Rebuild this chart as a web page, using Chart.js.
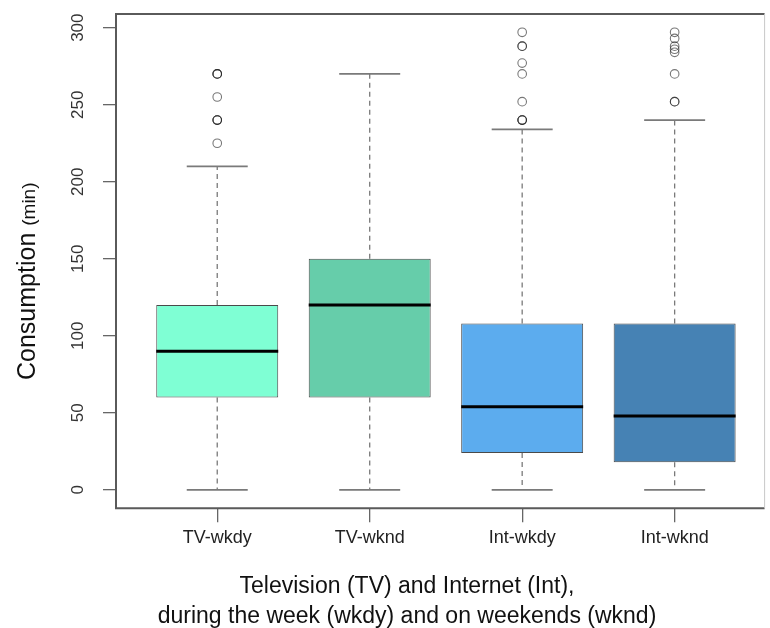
<!DOCTYPE html>
<html lang="en">
<head>
    <meta charset="UTF-8">
    <title>Consumption boxplot</title>
    <script src="https://cdn.jsdelivr.net/npm/chart.js@4.4.1/dist/chart.umd.min.js"></script>
    <style>
        html, body { margin: 0; padding: 0; background: #fff; }
        #wrap { width: 770px; height: 628px; }
    </style>
</head>
<body>
<div id="wrap"><canvas id="chartBox" width="770" height="628"></canvas></div>
<script>
    // categories and five-number summaries (minutes)
    var groups = ["TV-wkdy", "TV-wknd", "Int-wkdy", "Int-wknd"];
    var whiskerLow = [0, 0, 0, 0];
    var q1 = [60, 60, 24, 18];
    var median = [90, 120, 54, 48];
    var q3 = [120, 150, 108, 108];
    var whiskerHigh = [210, 270, 234, 240];
    // outliers per group (repeated values draw darker rings)
    var outliers = [
        [225, 240, 240, 240, 255, 270, 270, 270],
        [],
        [240, 240, 240, 252, 270, 277, 288, 288, 297],
        [252, 252, 270, 284, 286, 288, 293, 297]
    ];
    var yTicks = [0, 50, 100, 150, 200, 250, 300];
    var boxColors = ["#7fffd4", "#66cdaa", "#5cacee", "#4682b4"];

    var font = "'Liberation Sans', Arial, sans-serif";

    var boxData = groups.map(function (g, i) {
        return {x: i + 1, y: [q1[i], q3[i]]};
    });
    var outlierData = [];
    outliers.forEach(function (list, i) {
        list.forEach(function (v) {
            outlierData.push({x: i + 1, y: v});
        });
    });

    var boxExtras = {
        id: "boxExtras",
        beforeDatasetsDraw: function (chart) {
            var ctx = chart.ctx;
            var yS = chart.scales.y;
            var meta = chart.getDatasetMeta(0);
            ctx.save();
            meta.data.forEach(function (bar, i) {
                var half = bar.width / 4;
                ctx.strokeStyle = "#7a7a7a";
                ctx.lineWidth = 1.3;
                ctx.setLineDash([5, 4]);
                ctx.beginPath();
                ctx.moveTo(bar.x, yS.getPixelForValue(q3[i]));
                ctx.lineTo(bar.x, yS.getPixelForValue(whiskerHigh[i]));
                ctx.moveTo(bar.x, yS.getPixelForValue(q1[i]));
                ctx.lineTo(bar.x, yS.getPixelForValue(whiskerLow[i]));
                ctx.stroke();
                ctx.setLineDash([]);
                ctx.lineWidth = 1.6;
                ctx.beginPath();
                var hi = yS.getPixelForValue(whiskerHigh[i]);
                var lo = yS.getPixelForValue(whiskerLow[i]);
                ctx.moveTo(bar.x - half, hi);
                ctx.lineTo(bar.x + half, hi);
                ctx.moveTo(bar.x - half, lo);
                ctx.lineTo(bar.x + half, lo);
                ctx.stroke();
            });
            ctx.restore();
        },
        afterDatasetsDraw: function (chart) {
            var ctx = chart.ctx, a = chart.chartArea;
            var yS = chart.scales.y;
            var meta = chart.getDatasetMeta(0);
            ctx.save();
            // medians
            meta.data.forEach(function (bar, i) {
                var m = yS.getPixelForValue(median[i]);
                ctx.strokeStyle = "#000";
                ctx.lineWidth = 3;
                ctx.beginPath();
                ctx.moveTo(bar.x - bar.width / 2, m);
                ctx.lineTo(bar.x + bar.width / 2, m);
                ctx.stroke();
            });
            // plot frame
            ctx.strokeStyle = "#5a5a5a";
            ctx.lineWidth = 2;
            ctx.beginPath();
            ctx.moveTo(a.right, a.top);
            ctx.lineTo(a.left, a.top);
            ctx.lineTo(a.left, a.bottom);
            ctx.lineTo(a.right, a.bottom);
            ctx.stroke();
            ctx.strokeStyle = "#c8c8c8";
            ctx.lineWidth = 1;
            ctx.beginPath();
            ctx.moveTo(a.right, a.top);
            ctx.lineTo(a.right, a.bottom);
            ctx.stroke();
            // y axis title, "(min)" set smaller
            ctx.translate(35, 380);
            ctx.rotate(-Math.PI / 2);
            ctx.fillStyle = "#111";
            ctx.textBaseline = "alphabetic";
            ctx.textAlign = "left";
            ctx.font = "25px " + font;
            var main = "Consumption ";
            ctx.fillText(main, 0, 0);
            var w = ctx.measureText(main).width;
            ctx.font = "19px " + font;
            ctx.fillText("(min)", w, 0);
            ctx.restore();
        }
    };

    new Chart(document.getElementById("chartBox"), {
        data: {
            datasets: [
                {
                    type: "bar",
                    data: boxData,
                    backgroundColor: boxColors,
                    borderColor: "#4a4a4a",
                    borderWidth: 1,
                    borderSkipped: false,
                    barPercentage: 0.8,
                    categoryPercentage: 1
                },
                {
                    type: "scatter",
                    data: outlierData,
                    pointRadius: 4.3,
                    pointBorderWidth: 1.1,
                    pointBackgroundColor: "rgba(0,0,0,0)",
                    pointBorderColor: "rgba(30,30,30,0.6)"
                }
            ]
        },
        options: {
            responsive: false,
            animation: false,
            layout: {padding: {left: 47, right: 3, top: 14, bottom: 0}},
            plugins: {
                legend: {display: false},
                tooltip: {enabled: false},
                title: {
                    display: true,
                    position: "bottom",
                    text: ["Television (TV) and Internet (Int),", "during the week (wkdy) and on weekends (wknd)"],
                    color: "#111",
                    font: {family: font, size: 23, weight: "normal", lineHeight: 1.3},
                    padding: {top: 0, bottom: -4}
                }
            },
            scales: {
                x: {
                    type: "linear",
                    offset: false,
                    min: 0.336,
                    max: 4.59,
                    afterBuildTicks: function (s) {
                        s.ticks = groups.map(function (g, i) { return {value: i + 1}; });
                    },
                    afterFit: function (s) {
                        s.height = 64;
                        s.paddingLeft = 0;
                        s.paddingRight = 0;
                    },
                    grid: {offset: false, drawOnChartArea: false, drawTicks: true, tickLength: 14, color: "#666", lineWidth: 1.3},
                    border: {display: false},
                    ticks: {
                        autoSkip: false,
                        maxRotation: 0,
                        padding: 5,
                        color: "#222",
                        font: {family: font, size: 18},
                        callback: function (v) { return groups[v - 1]; }
                    }
                },
                y: {
                    type: "linear",
                    min: -11.88,
                    max: 308.88,
                    afterBuildTicks: function (s) {
                        s.ticks = yTicks.map(function (v) { return {value: v}; });
                    },
                    afterFit: function (s) {
                        s.width = 69;
                        s.paddingTop = 0;
                        s.paddingBottom = 0;
                    },
                    grid: {drawOnChartArea: false, drawTicks: true, tickLength: 13, color: "#666", lineWidth: 1.3},
                    border: {display: false},
                    ticks: {
                        autoSkip: false,
                        minRotation: 90,
                        maxRotation: 90,
                        crossAlign: "center",
                        padding: 11,
                        color: "#333",
                        font: {family: font, size: 17}
                    }
                }
            }
        },
        plugins: [boxExtras]
    });
</script>
</body>
</html>
